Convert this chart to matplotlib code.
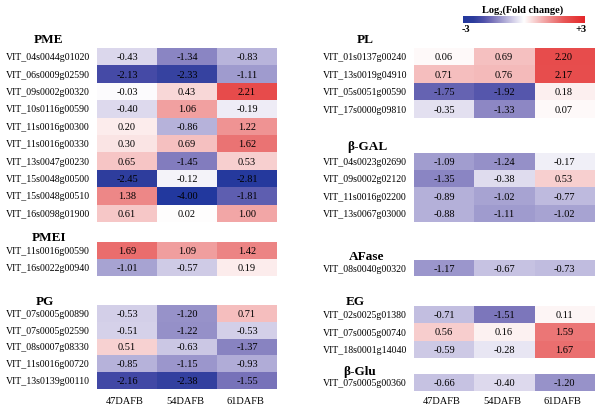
import matplotlib
matplotlib.use("Agg")
import matplotlib.pyplot as plt
import numpy as np
from matplotlib.colors import LinearSegmentedColormap, Normalize

plt.rcParams['font.family'] = ['Liberation Serif', 'DejaVu Serif']

W, H = 600, 410

stages = ["47DAFB", "54DAFB", "61DAFB"]

pme_genes = ["VIT_04s0044g01020", "VIT_06s0009g02590", "VIT_09s0002g00320",
             "VIT_10s0116g00590", "VIT_11s0016g00300", "VIT_11s0016g00330",
             "VIT_13s0047g00230", "VIT_15s0048g00500", "VIT_15s0048g00510",
             "VIT_16s0098g01900"]
pme_vals = [[-0.43, -1.34, -0.83], [-2.13, -2.33, -1.11], [-0.03, 0.43, 2.21],
            [-0.40, 1.06, -0.19], [0.20, -0.86, 1.22], [0.30, 0.69, 1.62],
            [0.65, -1.45, 0.53], [-2.45, -0.12, -2.81], [1.38, -4.00, -1.81],
            [0.61, 0.02, 1.00]]

pmei_genes = ["VIT_11s0016g00590", "VIT_16s0022g00940"]
pmei_vals = [[1.69, 1.09, 1.42], [-1.01, -0.57, 0.19]]

pg_genes = ["VIT_07s0005g00890", "VIT_07s0005g02590", "VIT_08s0007g08330",
            "VIT_11s0016g00720", "VIT_13s0139g00110"]
pg_vals = [[-0.53, -1.20, 0.71], [-0.51, -1.22, -0.53], [0.51, -0.63, -1.37],
           [-0.85, -1.15, -0.93], [-2.16, -2.38, -1.55]]

pl_genes = ["VIT_01s0137g00240", "VIT_13s0019g04910", "VIT_05s0051g00590",
            "VIT_17s0000g09810"]
pl_vals = [[0.06, 0.69, 2.20], [0.71, 0.76, 2.17], [-1.75, -1.92, 0.18],
           [-0.35, -1.33, 0.07]]

bgal_genes = ["VIT_04s0023g02690", "VIT_09s0002g02120", "VIT_11s0016g02200",
              "VIT_13s0067g03000"]
bgal_vals = [[-1.09, -1.24, -0.17], [-1.35, -0.38, 0.53], [-0.89, -1.02, -0.77],
             [-0.88, -1.11, -1.02]]

afase_genes = ["VIT_08s0040g00320"]
afase_vals = [[-1.17, -0.67, -0.73]]

eg_genes = ["VIT_02s0025g01380", "VIT_07s0005g00740", "VIT_18s0001g14040"]
eg_vals = [[-0.71, -1.51, 0.11], [0.56, 0.16, 1.59], [-0.59, -0.28, 1.67]]

bglu_genes = ["VIT_07s0005g00360"]
bglu_vals = [[-0.66, -0.40, -1.20]]

# colour stops
cmap = LinearSegmentedColormap.from_list("fc", [
    (0.0, "#22389e"), (0.0833, "#2c3c9c"), (0.1667, "#4e50aa"),
    (0.25, "#7e78bc"), (0.3333, "#aaa6d4"), (0.4167, "#d6d2ea"),
    (0.5, "#ffffff"), (0.5833, "#f8d2d2"), (0.6667, "#f2a6a6"),
    (0.75, "#ec7e7e"), (0.8333, "#e85656"), (0.9167, "#e63e3e"),
    (1.0, "#e4262a")])
norm = Normalize(-3, 3, clip=True)

fig = plt.figure(figsize=(W / 100, H / 100), dpi=100)


def block(title, title_xy, genes, vals, x0, y0, y1, label_x):
    vals = np.array(vals)
    ax = fig.add_axes([x0 / W, 1 - y1 / H, 180 / W, (y1 - y0) / H])
    ax.imshow(vals, cmap=cmap, norm=norm, aspect='auto', interpolation='nearest')
    ax.set_axis_off()
    for i in range(vals.shape[0]):
        for j in range(vals.shape[1]):
            ax.text(j, i, f"{vals[i, j]:.2f}", ha='center', va='center', fontsize=7.5)
    rh = (y1 - y0) / len(genes)
    for i, g in enumerate(genes):
        fig.text(label_x / W, 1 - (y0 + rh * (i + 0.5)) / H, g, ha='left',
                 va='center', fontsize=7.1)
    fig.text(title_xy[0] / W, 1 - title_xy[1] / H, title, ha='center',
             va='center', fontsize=9.5, fontweight='bold')
    return ax


LX, RX = 97, 414
block("PME", (48, 40), pme_genes, pme_vals, LX, 49, 223, 6)
block("PMEI", (49, 238), pmei_genes, pmei_vals, LX, 243, 277, 6)
block("PG", (45, 302), pg_genes, pg_vals, LX, 306, 390, 6)
block("PL", (365, 40), pl_genes, pl_vals, RX, 49, 119, 323)
block("β-GAL", (367, 147), bgal_genes, bgal_vals, RX, 154, 223, 323)
block("AFase", (367, 257), afase_genes, afase_vals, RX, 261, 277, 323)
block("EG", (355, 302), eg_genes, eg_vals, RX, 307, 359, 323)
block("β-Glu", (360, 372), bglu_genes, bglu_vals, RX, 375, 392, 323)

for x0 in (LX, RX):
    for j, s in enumerate(stages):
        fig.text((x0 + 60 * j + 28) / W, 1 - 402 / H, s, ha='center',
                 va='center', fontsize=7.5)

# colour bar
cax = fig.add_axes([463 / W, 1 - 24 / H, 121 / W, 7 / H])
cax.imshow(np.linspace(-3, 3, 256)[None, :], cmap=cmap, norm=norm, aspect='auto')
cax.set_axis_off()
fig.text(523 / W, 1 - 10 / H, "Log₂(Fold change)", ha='center', va='center',
         fontsize=7.5, fontweight='bold')
fig.text(466 / W, 1 - 29 / H, "-3", ha='center', va='center', fontsize=7.5,
         fontweight='bold')
fig.text(581 / W, 1 - 29 / H, "+3", ha='center', va='center', fontsize=7.5,
         fontweight='bold')

fig.savefig("out.png", dpi=100)
